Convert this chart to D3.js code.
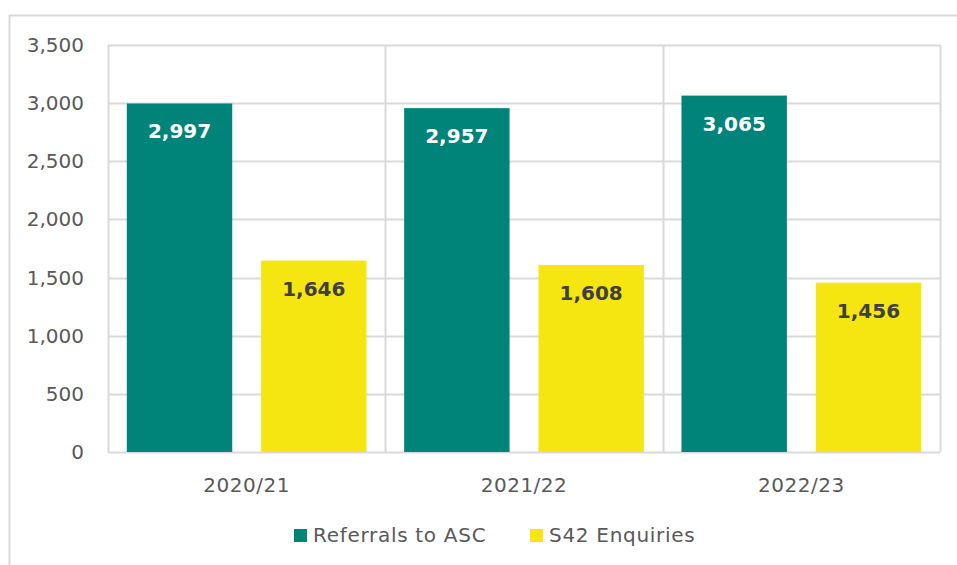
<!DOCTYPE html>
<html>
<head>
<meta charset="utf-8">
<script src="https://cdn.jsdelivr.net/npm/d3@7"></script>
<style>
  body { margin: 0; background: #fff; }
  text { font-family: "DejaVu Sans", sans-serif; }
</style>
</head>
<body>
<svg id="chart" width="957" height="565"></svg>
<script>
let years = ["2020/21", "2021/22", "2022/23"]
let seriesNames = ["Referrals to ASC", "S42 Enquiries"]
let referrals = [2997, 2957, 3065]
let enquiries = [1646, 1608, 1456]
let yTicks = [0, 500, 1000, 1500, 2000, 2500, 3000, 3500]

let colors = ["#00847a", "#f5e612"]
let labelColors = ["#ffffff", "#404040"]

let data = []
years.forEach((yr, i) => {
  data.push({ year: yr, series: seriesNames[0], value: referrals[i] })
  data.push({ year: yr, series: seriesNames[1], value: enquiries[i] })
})

let margin = { top: 45, right: 17, bottom: 113, left: 108 }
let width = 957
let height = 565
let svg = d3.select("#chart")

// outer chart border (top + left visible)
svg.append("line")
  .attr("x1", 9.5).attr("x2", 957).attr("y1", 15.5).attr("y2", 15.5)
  .style("stroke", "#d9d9d9").style("stroke-width", 2)
svg.append("line")
  .attr("x1", 9.5).attr("x2", 9.5).attr("y1", 15).attr("y2", 565)
  .style("stroke", "#d9d9d9").style("stroke-width", 2)

let x = d3.scaleBand()
  .domain(years)
  .range([margin.left, width - margin.right])

let x1 = d3.scaleBand()
  .domain(seriesNames)
  .range([0, x.bandwidth()])
  .paddingInner(0.215)
  .paddingOuter(0.14)

let y = d3.scaleLinear()
  .domain([0, 3500])
  .range([height - margin.bottom, margin.top])

// horizontal gridlines
svg.append("g")
  .selectAll("line")
  .data(yTicks)
  .join("line")
  .attr("x1", margin.left)
  .attr("x2", width - margin.right)
  .attr("y1", d => Math.round(y(d)) + 0.5)
  .attr("y2", d => Math.round(y(d)) + 0.5)
  .style("stroke", "#d9d9d9")
  .style("stroke-width", 2)

// vertical category separators
let seps = [margin.left].concat(years.map(d => x(d) + x.bandwidth()))
svg.append("g")
  .selectAll("line")
  .data(seps)
  .join("line")
  .attr("x1", d => Math.round(d) + 0.5)
  .attr("x2", d => Math.round(d) + 0.5)
  .attr("y1", y(3500))
  .attr("y2", y(0))
  .style("stroke", "#d9d9d9")
  .style("stroke-width", 2)

// y tick labels
svg.append("g")
  .selectAll("text")
  .data(yTicks)
  .join("text")
  .attr("x", 84)
  .attr("y", d => y(d))
  .attr("dy", "0.35em")
  .attr("text-anchor", "end")
  .style("fill", "#595959")
  .style("font-size", "20px")
  .text(d => d3.format(",")(d))

// bars
let bars = svg.append("g")
  .selectAll("rect")
  .data(data)
  .join("rect")
  .attr("x", d => x(d.year) + x1(d.series))
  .attr("y", d => y(d.value))
  .attr("width", x1.bandwidth())
  .attr("height", d => y(0) - y(d.value))
  .style("fill", d => colors[seriesNames.indexOf(d.series)])

// value labels
svg.append("g")
  .selectAll("text")
  .data(data)
  .join("text")
  .attr("x", d => x(d.year) + x1(d.series) + x1.bandwidth() / 2)
  .attr("y", d => y(d.value) + 28)
  .attr("dy", "0.35em")
  .attr("text-anchor", "middle")
  .style("fill", d => labelColors[seriesNames.indexOf(d.series)])
  .style("font-size", "20px")
  .style("font-weight", "bold")
  .text(d => d3.format(",")(d.value))

// x category labels
svg.append("g")
  .selectAll("text")
  .data(years)
  .join("text")
  .attr("x", d => x(d) + x.bandwidth() / 2)
  .attr("y", 485)
  .attr("dy", "0.35em")
  .attr("text-anchor", "middle")
  .style("fill", "#595959")
  .style("font-size", "20px")
  .style("letter-spacing", "0.5px")
  .text(d => d)

// legend
let legendX = [294, 530]
let legend = svg.append("g")
  .selectAll("g")
  .data(seriesNames)
  .join("g")
  .attr("transform", (d, i) => `translate(${legendX[i]},535)`)

legend.append("rect")
  .attr("x", 0)
  .attr("y", -6)
  .attr("width", 13)
  .attr("height", 13)
  .style("fill", (d, i) => colors[i])

legend.append("text")
  .attr("x", 19)
  .attr("y", 0)
  .attr("dy", "0.35em")
  .style("fill", "#595959")
  .style("font-size", "20px")
  .style("letter-spacing", "0.7px")
  .text(d => d)
</script>
</body>
</html>
